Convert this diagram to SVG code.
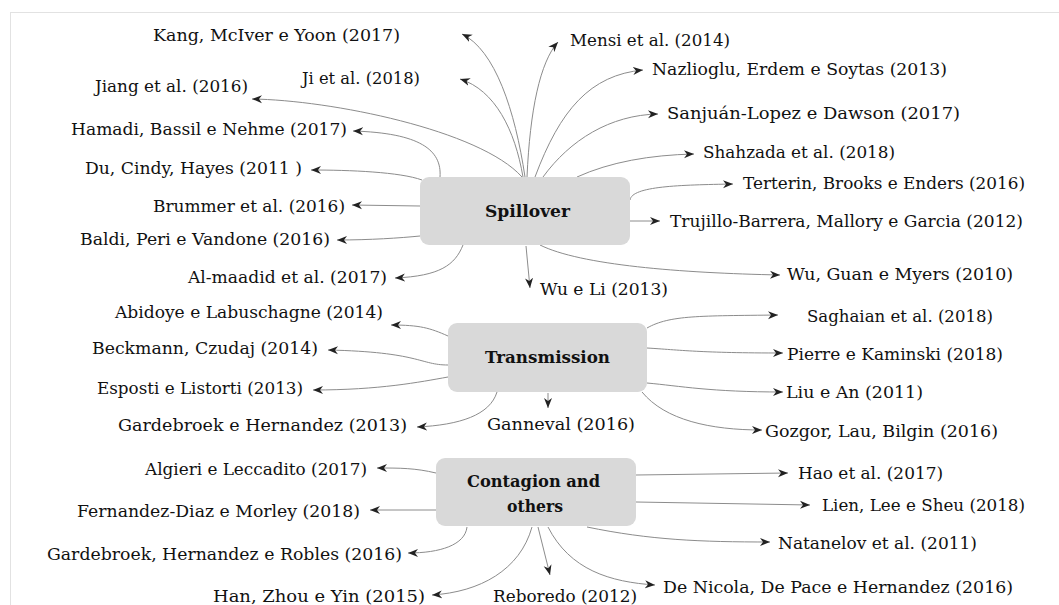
<svg xmlns="http://www.w3.org/2000/svg" width="1059" height="605" viewBox="0 0 1059 605">
<style>
.bg{fill:#ffffff}
.frame{fill:none;stroke:#e2e2e2;stroke-width:1}
.box{fill:#d9d9d9}
.lbl{font-family:"DejaVu Serif","Liberation Serif",serif;font-size:16px;fill:#111}
.ttl{font-family:"DejaVu Serif","Liberation Serif",serif;font-size:16px;font-weight:bold;fill:#111}
.conn path{fill:none;stroke:#8c8c8c;stroke-width:1;marker-end:url(#ah)}
</style>
<defs>
<marker id="ah" markerUnits="userSpaceOnUse" markerWidth="11" markerHeight="10" refX="10" refY="5" orient="auto">
<path d="M0,1 L10,5 L0,9 L3,5 Z" fill="#222"/>
</marker>
</defs>
<rect class="bg" x="0" y="0" width="1059" height="605"/>
<rect class="frame" x="10.5" y="12.5" width="1100" height="700"/>

<g id="connectors" class="conn">
<!-- Spillover -->
<path d="M525 177 C515 110 495 50 462 34"/>
<path d="M523 177 C515 130 495 90 460 79"/>
<path d="M527 177 C530 110 540 62 558 42"/>
<path d="M535 177 C560 110 590 75 643 70"/>
<path d="M543 177 C570 140 610 115 658 114"/>
<path d="M577 177 C610 162 650 155 694 154"/>
<path d="M630 200 C632 186 680 185 733 184"/>
<path d="M630 221 L660 221"/>
<path d="M540 245 C580 265 680 273 780 275"/>
<path d="M526 246 L530 288"/>
<path d="M463 245 C455 265 440 276 395 278"/>
<path d="M522 177 C480 130 330 100 252 99"/>
<path d="M440 177 C442 150 420 133 353 131"/>
<path d="M422 180 C400 172 350 170 311 170"/>
<path d="M420 206 L352 205"/>
<path d="M420 236 C400 238 370 240 337 240"/>
<!-- Transmission -->
<path d="M448 336 C430 328 420 325 391 325"/>
<path d="M448 365 C420 365 420 352 328 350"/>
<path d="M448 377 C420 382 380 390 313 390"/>
<path d="M497 392 C490 415 460 425 417 427"/>
<path d="M548 393 L548 408"/>
<path d="M647 328 C670 315 700 316 778 315"/>
<path d="M647 348 C680 350 700 353 783 353"/>
<path d="M647 383 C680 386 710 392 783 392"/>
<path d="M642 392 C665 420 710 430 762 430"/>
<!-- Contagion -->
<path d="M436 473 C415 468 400 468 377 468"/>
<path d="M436 510 L370 510"/>
<path d="M467 527 C465 545 440 553 408 553"/>
<path d="M532 527 C520 570 480 592 432 595"/>
<path d="M538 527 L550 575"/>
<path d="M548 527 C570 570 610 582 655 585"/>
<path d="M636 475 L788 473"/>
<path d="M636 502 L810 505"/>
<path d="M587 527 C650 540 700 542 770 542"/>
</g>

<g id="spillover">
<rect class="box" x="420" y="177" width="210" height="68" rx="9"/>
<text class="ttl" x="485" y="217" textLength="85" lengthAdjust="spacingAndGlyphs">Spillover</text>
</g>
<g id="transmission">
<rect class="box" x="448" y="323" width="199" height="69" rx="9"/>
<text class="ttl" x="485" y="363" textLength="125" lengthAdjust="spacingAndGlyphs">Transmission</text>
</g>
<g id="contagion">
<rect class="box" x="436" y="458" width="200" height="68" rx="9"/>
<text class="ttl" x="467" y="487" textLength="133" lengthAdjust="spacingAndGlyphs">Contagion and</text>
<text class="ttl" x="507" y="512" textLength="56" lengthAdjust="spacingAndGlyphs">others</text>
</g>

<g id="kang"><text class="lbl" x="153" y="41" textLength="247" lengthAdjust="spacingAndGlyphs">Kang, McIver e Yoon (2017)</text></g>
<g id="ji"><text class="lbl" x="302" y="84" textLength="118" lengthAdjust="spacingAndGlyphs">Ji et al. (2018)</text></g>
<g id="jiang"><text class="lbl" x="95" y="92" textLength="153" lengthAdjust="spacingAndGlyphs">Jiang et al. (2016)</text></g>
<g id="hamadi"><text class="lbl" x="71" y="135" textLength="276" lengthAdjust="spacingAndGlyphs">Hamadi, Bassil e Nehme (2017)</text></g>
<g id="du"><text class="lbl" x="85" y="174" textLength="217" lengthAdjust="spacingAndGlyphs">Du, Cindy, Hayes (2011 )</text></g>
<g id="brummer"><text class="lbl" x="153" y="212" textLength="192" lengthAdjust="spacingAndGlyphs">Brummer et al. (2016)</text></g>
<g id="baldi"><text class="lbl" x="80" y="245" textLength="250" lengthAdjust="spacingAndGlyphs">Baldi, Peri e Vandone (2016)</text></g>
<g id="almaadid"><text class="lbl" x="188" y="283" textLength="199" lengthAdjust="spacingAndGlyphs">Al-maadid et al. (2017)</text></g>
<g id="mensi"><text class="lbl" x="570" y="46" textLength="160" lengthAdjust="spacingAndGlyphs">Mensi et al. (2014)</text></g>
<g id="nazlioglu"><text class="lbl" x="652" y="75" textLength="295" lengthAdjust="spacingAndGlyphs">Nazlioglu, Erdem e Soytas (2013)</text></g>
<g id="sanjuan"><text class="lbl" x="667" y="119" textLength="293" lengthAdjust="spacingAndGlyphs">Sanjuán-Lopez e Dawson (2017)</text></g>
<g id="shahzada"><text class="lbl" x="703" y="158" textLength="192" lengthAdjust="spacingAndGlyphs">Shahzada et al. (2018)</text></g>
<g id="terterin"><text class="lbl" x="743" y="189" textLength="282" lengthAdjust="spacingAndGlyphs">Terterin, Brooks e Enders (2016)</text></g>
<g id="trujillo"><text class="lbl" x="670" y="227" textLength="353" lengthAdjust="spacingAndGlyphs">Trujillo-Barrera, Mallory e Garcia (2012)</text></g>
<g id="wuguan"><text class="lbl" x="787" y="280" textLength="226" lengthAdjust="spacingAndGlyphs">Wu, Guan e Myers (2010)</text></g>
<g id="wuli"><text class="lbl" x="540" y="295" textLength="128" lengthAdjust="spacingAndGlyphs">Wu e Li (2013)</text></g>

<g id="abidoye"><text class="lbl" x="115" y="318" textLength="268" lengthAdjust="spacingAndGlyphs">Abidoye e Labuschagne (2014)</text></g>
<g id="beckmann"><text class="lbl" x="92" y="354" textLength="226" lengthAdjust="spacingAndGlyphs">Beckmann, Czudaj (2014)</text></g>
<g id="esposti"><text class="lbl" x="97" y="394" textLength="206" lengthAdjust="spacingAndGlyphs">Esposti e Listorti (2013)</text></g>
<g id="gardebroek1"><text class="lbl" x="118" y="431" textLength="289" lengthAdjust="spacingAndGlyphs">Gardebroek  e Hernandez (2013)</text></g>
<g id="ganneval"><text class="lbl" x="487" y="430" textLength="148" lengthAdjust="spacingAndGlyphs">Ganneval (2016)</text></g>
<g id="saghaian"><text class="lbl" x="807" y="322" textLength="186" lengthAdjust="spacingAndGlyphs">Saghaian et al. (2018)</text></g>
<g id="pierre"><text class="lbl" x="787" y="360" textLength="216" lengthAdjust="spacingAndGlyphs">Pierre e Kaminski (2018)</text></g>
<g id="liu"><text class="lbl" x="786" y="398" textLength="137" lengthAdjust="spacingAndGlyphs">Liu e An (2011)</text></g>
<g id="gozgor"><text class="lbl" x="765" y="437" textLength="233" lengthAdjust="spacingAndGlyphs">Gozgor, Lau, Bilgin (2016)</text></g>

<g id="algieri"><text class="lbl" x="145" y="475" textLength="222" lengthAdjust="spacingAndGlyphs">Algieri e Leccadito (2017)</text></g>
<g id="fernandez"><text class="lbl" x="77" y="517" textLength="283" lengthAdjust="spacingAndGlyphs">Fernandez-Diaz e Morley (2018)</text></g>
<g id="gardebroek2"><text class="lbl" x="47" y="560" textLength="355" lengthAdjust="spacingAndGlyphs">Gardebroek, Hernandez e Robles (2016)</text></g>
<g id="han"><text class="lbl" x="213" y="602" textLength="212" lengthAdjust="spacingAndGlyphs">Han, Zhou e Yin (2015)</text></g>
<g id="reboredo"><text class="lbl" x="493" y="602" textLength="144" lengthAdjust="spacingAndGlyphs">Reboredo (2012)</text></g>
<g id="hao"><text class="lbl" x="798" y="479" textLength="145" lengthAdjust="spacingAndGlyphs">Hao et al. (2017)</text></g>
<g id="lien"><text class="lbl" x="822" y="511" textLength="203" lengthAdjust="spacingAndGlyphs">Lien, Lee e Sheu (2018)</text></g>
<g id="natanelov"><text class="lbl" x="778" y="549" textLength="199" lengthAdjust="spacingAndGlyphs">Natanelov et al. (2011)</text></g>
<g id="denicola"><text class="lbl" x="663" y="593" textLength="350" lengthAdjust="spacingAndGlyphs">De Nicola, De Pace e Hernandez (2016)</text></g>
</svg>
